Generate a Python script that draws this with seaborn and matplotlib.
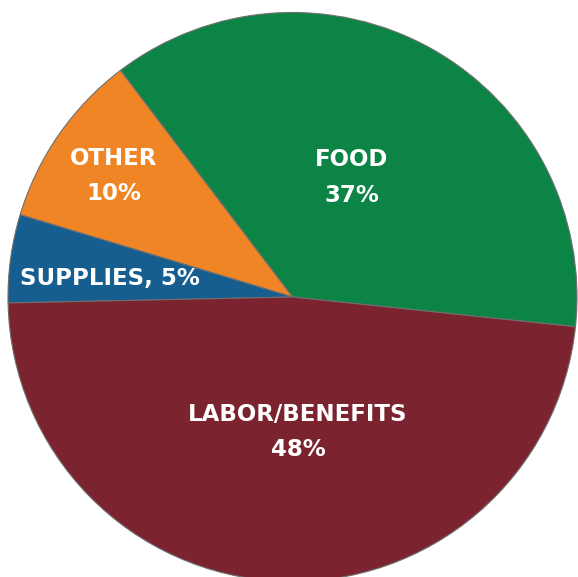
import matplotlib
matplotlib.use("Agg")
import matplotlib.pyplot as plt
import seaborn as sns
import numpy as np

# ---- data ----
categories = ["FOOD", "OTHER", "SUPPLIES", "LABOR/BENEFITS"]
values = [37, 10, 5, 48]
label_texts = ["FOOD\n37%", "OTHER\n10%", "SUPPLIES, 5%", "LABOR/BENEFITS\n48%"]
colors = ["#0B8446", "#F08526", "#155E8F", "#7B2430"]

sns.set_theme(style="white")
plt.rcParams["font.family"] = ["DejaVu Sans"]

W, H = 578, 577
fig = plt.figure(figsize=(W / 100, H / 100), dpi=100)
cx, cy, r = 292.5, 297.0, 284.5  # pixel geometry of pie (y from top)
ax = fig.add_axes([(cx - r) / W, (H - cy - r) / H, 2 * r / W, 2 * r / H])

wedges, _ = ax.pie(values, colors=colors, startangle=-6, counterclock=True,
                   radius=1.0,
                   wedgeprops=dict(edgecolor="#6f6f6f", linewidth=0.8))
ax.set_xlim(-1, 1)
ax.set_ylim(-1, 1)
ax.set_aspect("equal")
ax.axis("off")

# label placement (polar: angle deg, distance fraction of radius)
label_pos = [(63.6, 0.47), (145.9, 0.758), (174.1, 0.645), (-87.7, 0.475)]
for txt, (ang, dist) in zip(label_texts, label_pos):
    a = np.deg2rad(ang)
    ax.text(dist * np.cos(a), dist * np.sin(a), txt, ha="center", va="center",
            color="white", fontsize=16.5, fontweight="bold", linespacing=1.7)

fig.savefig("out.png", dpi=100)
